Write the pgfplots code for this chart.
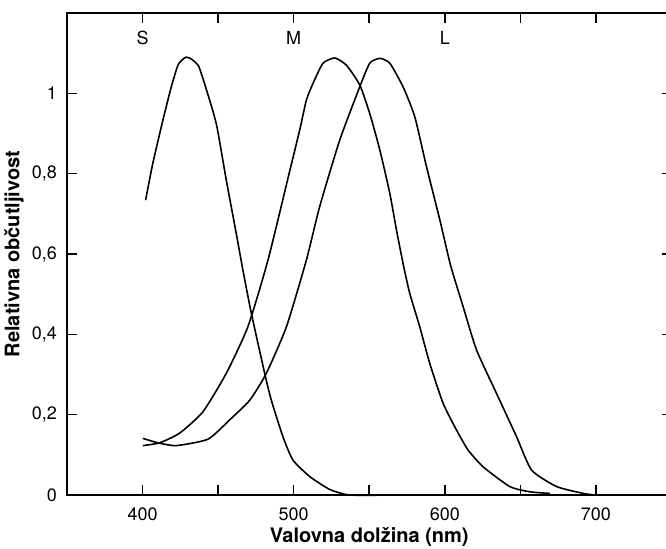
\documentclass[border=0pt]{standalone}
\usepackage{fontspec}
\setmainfont{TeX Gyre Heros}
\usepackage{pgfplots}
\pgfplotsset{compat=1.18}

% S, M, L cone sensitivity curves
\pgfplotstableread{
x y
402 0.734
406.8 0.826
413.5 0.934
419 1.016
423.4 1.070
427 1.086
429 1.090
432 1.086
437.3 1.066
444.4 0.983
449.2 0.917
455.4 0.784
462 0.651
466.4 0.56
472 0.452
480.8 0.303
485.2 0.236
492.9 0.145
499.5 0.087
510.6 0.046
523.8 0.014
537 0.0
566 0.0
}\scone
\pgfplotstableread{
x y
400.2 0.123
411.3 0.130
424.5 0.154
439.9 0.207
455.4 0.303
469.7 0.419
483 0.585
497.4 0.807
504 0.909
508.4 0.983
512.8 1.025
519.4 1.075
527.2 1.088
534.9 1.070
543.7 1.021
550.3 0.950
557 0.859
563.6 0.751
568 0.66
572.6 0.572
576.8 0.502
583.4 0.419
590 0.328
598.9 0.228
607.7 0.162
615.4 0.112
625.4 0.070
643 0.021
656.3 0.008
669.5 0.004
}\mcone
\pgfplotstableread{
x y
400.2 0.141
410.1 0.130
422.3 0.123
443.3 0.139
457.6 0.187
470.9 0.236
481.9 0.303
495.2 0.419
508.4 0.585
517.2 0.718
530.5 0.884
543.7 1.016
550.3 1.075
557 1.087
563.6 1.075
572.4 1.016
580.1 0.942
587.9 0.817
596.7 0.685
603.8 0.572
612.1 0.469
621 0.361
634.2 0.253
647.5 0.145
657.4 0.062
674 0.021
691.6 0.004
699.3 0.0
}\lcone

\pgfplotsset{cone/.style={black, line width=0.8pt, no marks, smooth, tension=0.35}}

\begin{document}
\begin{tikzpicture}
\begin{axis}[
    scale only axis,
    width=302.25pt, height=241pt,
    xmin=350, xmax=750, ymin=0, ymax=1.2,
    clip=false,
    axis line style={line width=1pt},
    tick style={line width=0.8pt, black},
    tick align=inside,
    major tick length=5pt,
    xtick={400,450,...,700},
    xticklabels={400,,500,,600,,700},
    ytick={0,0.2,0.4,0.6,0.8,1},
    yticklabels={0,{0,2},{0,4},{0,6},{0,8},1},
    ticklabel style={font=\fontsize{9}{11}\selectfont},
    xticklabel style={yshift=-3pt},
    yticklabel style={xshift=-1.5pt},
    xlabel={Valovna dolžina (nm)},
    ylabel={Relativna občutljivost},
    label style={font=\fontsize{10}{12}\selectfont\bfseries},
    xlabel style={at={(axis description cs:0.5,-0.0871)}, anchor=center},
    ylabel style={at={(axis description cs:-0.0877,0.5)}, anchor=center},
]
\addplot[cone] table {\scone};
\addplot[cone] table {\mcone};
\addplot[cone] table {\lcone};
\node[font=\fontsize{9}{11}\selectfont] at (axis cs:400,1.138) {S};
\node[font=\fontsize{9}{11}\selectfont] at (axis cs:500,1.138) {M};
\node[font=\fontsize{9}{11}\selectfont] at (axis cs:600,1.138) {L};
\coordinate (bl) at (rel axis cs:0,0);
\coordinate (tr) at (rel axis cs:1,1);
\end{axis}
\pgfresetboundingbox
\useasboundingbox ([xshift=-33.5pt,yshift=-26.5pt]bl) rectangle ([xshift=-2.75pt,yshift=6.5pt]tr);
\end{tikzpicture}
\end{document}
